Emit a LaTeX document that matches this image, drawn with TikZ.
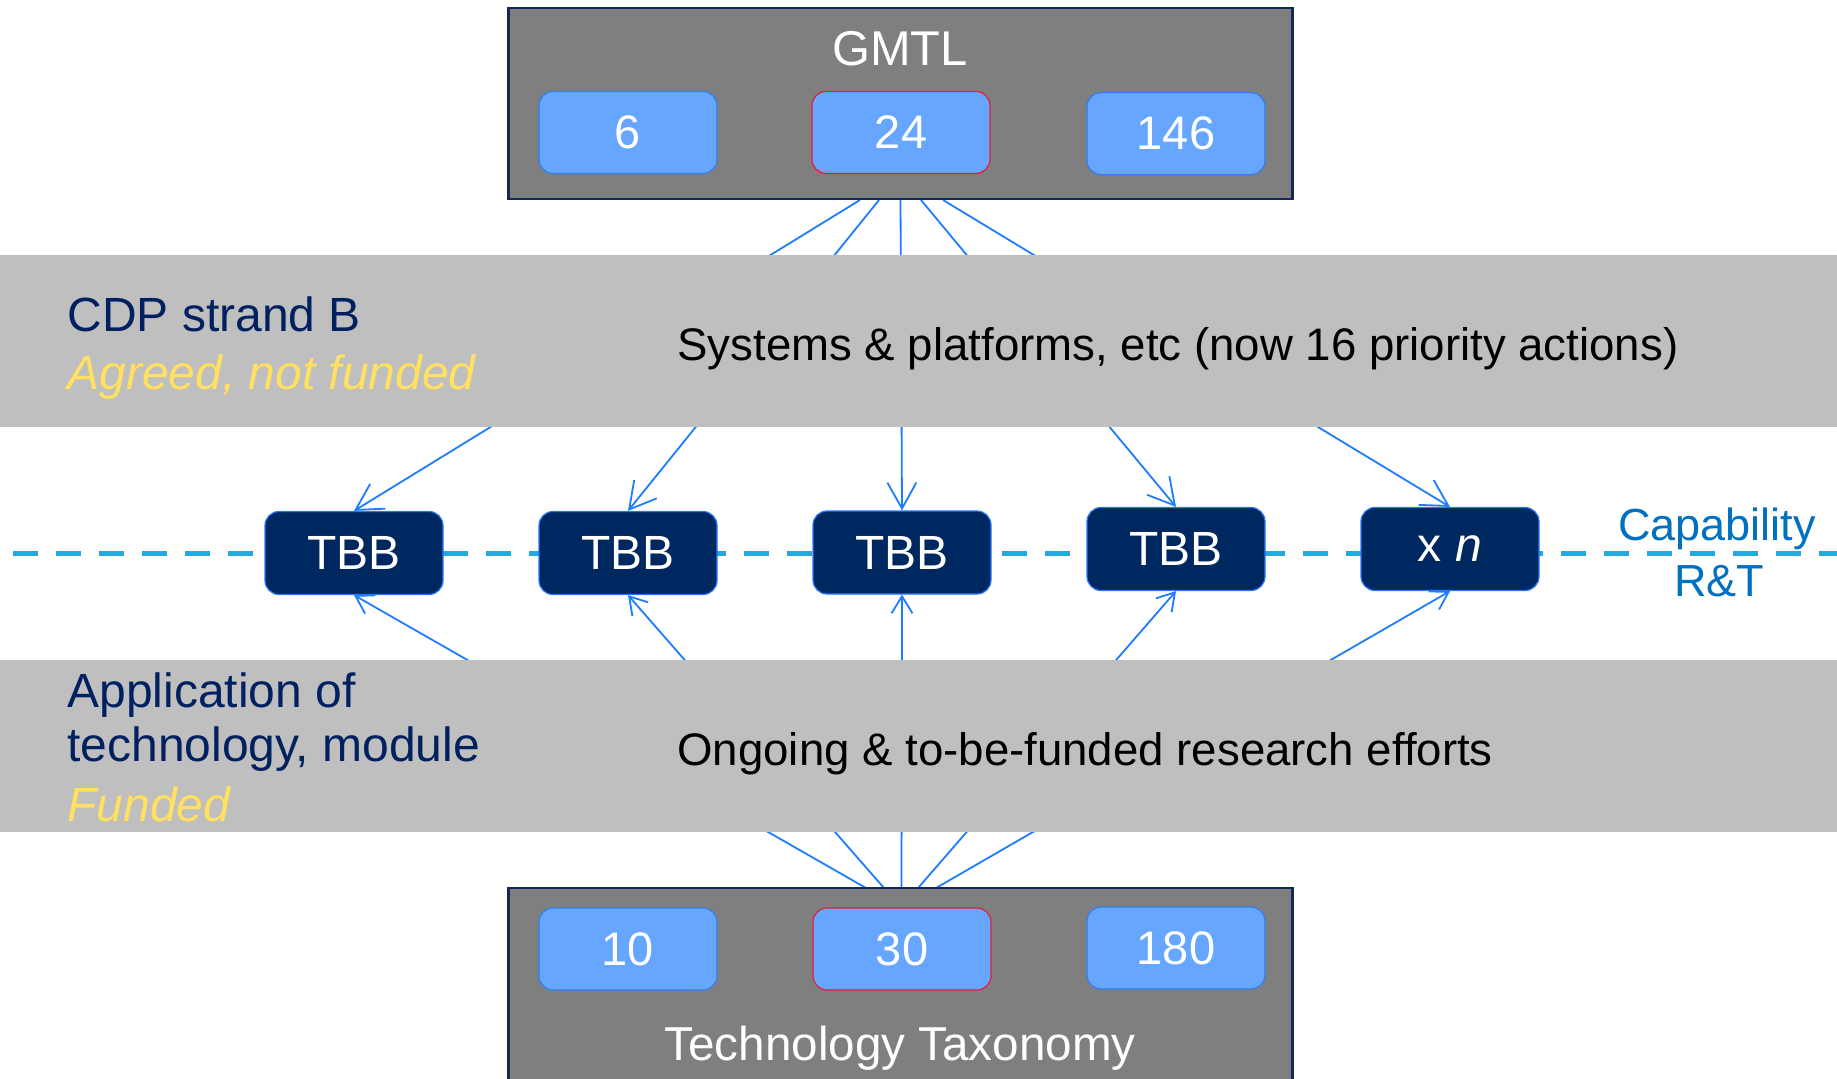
\documentclass[tikz,border=0pt]{standalone}
\usepackage{fontspec}
\setmainfont{Liberation Sans}
\usetikzlibrary{arrows.meta}

\definecolor{panelgray}{RGB}{127,127,127}
\definecolor{paneledge}{RGB}{20,40,90}
\definecolor{bandgray}{RGB}{191,191,191}
\definecolor{chipfill}{RGB}{102,166,255}
\definecolor{chipedge}{RGB}{47,128,237}
\definecolor{chipred}{RGB}{228,30,50}
\definecolor{tbbfill}{RGB}{0,40,96}
\definecolor{tbbedge}{RGB}{40,120,255}
\definecolor{linkblue}{RGB}{30,125,255}
\definecolor{rtline}{RGB}{36,168,224}
\definecolor{navytext}{RGB}{0,32,96}
\definecolor{goldtext}{RGB}{255,224,96}
\definecolor{captext}{RGB}{0,112,192}

\newcommand{\fsz}[1]{\fontsize{#1}{1.2\dimexpr#1\relax}\selectfont}

\begin{document}
\begin{tikzpicture}[x=0.5pt,y=-0.5pt,
  panel/.style={draw=paneledge,line width=1.2pt,fill=panelgray,minimum width=392pt,inner sep=0pt},
  chip/.style={draw=chipedge,line width=0.6pt,fill=chipfill,rounded corners=7pt,
    minimum width=89pt,minimum height=41pt,inner sep=0pt,text=white,font=\fsz{23.5pt}},
  redchip/.style={chip,draw=chipred},
  tbb/.style={draw=tbbedge,line width=0.6pt,fill=tbbfill,rounded corners=7pt,
    minimum width=89pt,minimum height=41.5pt,inner sep=0pt,text=white,font=\fsz{24pt}},
  band/.style={fill=bandgray,draw=none},
  link/.style={draw=linkblue,line width=0.9pt},
  intotop/.style={link,-{Straight Barb[length=13pt,width=14.5pt,line width=0.9pt]}},
  intobot/.style={link,-{Straight Barb[length=8.5pt,width=10.5pt,line width=0.9pt]}},
  rt/.style={draw=rtline,line width=2.5pt,dash pattern=on 12.5pt off 9pt},
  lbl/.style={inner sep=0pt,font=\fsz{24pt}},
  midlbl/.style={inner sep=0pt,font=\fsz{22.8pt},text=black},
]
\useasboundingbox (0,0) rectangle (1837,1078);
\clip (0,0) rectangle (1837,1078);
\fill[white] (0,0) rectangle (1837,1078);

% capability R&T axis
\coordinate (rtA) at (13,553);
\coordinate (rtB) at (1837,553);
\draw[rt] (rtA) -- (rtB);

% technology building blocks
\node[tbb] (tbb1) at (354,553) {TBB};
\node[tbb] (tbb2) at (628,553) {TBB};
\node[tbb] (tbb3) at (902,552.5) {TBB};
\node[tbb] (tbb4) at (1176,549) {TBB};
\node[tbb] (tbbn) at (1450,549) {x \textit{n}};

% fan-out points on the two panels
\coordinate (g1) at (860,200);
\coordinate (g2) at (879,200);
\coordinate (g3) at (900.5,200);
\coordinate (g4) at (921,200);
\coordinate (g5) at (943,200);
\coordinate (b1) at (866,888);
\coordinate (b2) at (884,888);
\coordinate (b3) at (901.5,888);
\coordinate (b4) at (918,888);
\coordinate (b5) at (936,888);

\draw[intotop] (g1) -- (tbb1.north);
\draw[intotop] (g2) -- (tbb2.north);
\draw[intotop] (g3) -- (tbb3.north);
\draw[intotop] (g4) -- (tbb4.north);
\draw[intotop] (g5) -- (tbbn.north);
\draw[intobot] (b1) -- (tbb1.south);
\draw[intobot] (b2) -- (tbb2.south);
\draw[intobot] (b3) -- (tbb3.south);
\draw[intobot] (b4) -- (tbb4.south);
\draw[intobot] (b5) -- (tbbn.south);

% horizontal bands
\path[band] (0,255.4) rectangle (1837,426.5);
\path[band] (0,659.6) rectangle (1837,831.8);

% GMTL panel
\node[panel,minimum height=95.5pt] (gmtl) at (900.4,103.7) {};
\node[lbl,text=white,font=\fsz{24.4pt},anchor=base] (gmtltxt) at (900,65) {GMTL};
\node[chip] (c6) at (628,132.4) {6};
\node[redchip] (c24) at (901,132.4) {24};
\node[chip] (c146) at (1176,133.6) {146};

% Technology Taxonomy panel
\node[panel,minimum height=104pt] (tax) at (900.4,992) {};
\node[chip] (c10) at (628,949) {10};
\node[redchip] (c30) at (902,949) {30};
\node[chip] (c180) at (1176,948) {180};
\node[lbl,text=white,font=\fsz{23.8pt},anchor=base] (taxtxt) at (900,1060) {Technology Taxonomy};

% band labels
\node[lbl,text=navytext,anchor=base west] (cdp) at (67,331.7) {CDP strand B};
\node[lbl,text=goldtext,anchor=base west] (agreed) at (67,389.3) {\itshape Agreed, not funded};
\node[midlbl,anchor=base west] (sys) at (677,360) {Systems \& platforms, etc (now 16 priority actions)};

\node[lbl,text=navytext,anchor=base west] (app1) at (67,707.7) {Application of};
\node[lbl,text=navytext,anchor=base west] (app2) at (67,761.7) {technology, module};
\node[lbl,text=goldtext,anchor=base west] (funded) at (67,821.7) {\itshape Funded};
\node[midlbl,anchor=base west] (ongoing) at (677,765) {Ongoing \& to-be-funded research efforts};

% axis label
\node[lbl,text=captext,font=\fsz{22.5pt},anchor=base] (cap1) at (1717,540) {Capability};
\node[lbl,text=captext,font=\fsz{22.5pt},anchor=base] (cap2) at (1719,596) {R\&T};
\end{tikzpicture}
\end{document}
